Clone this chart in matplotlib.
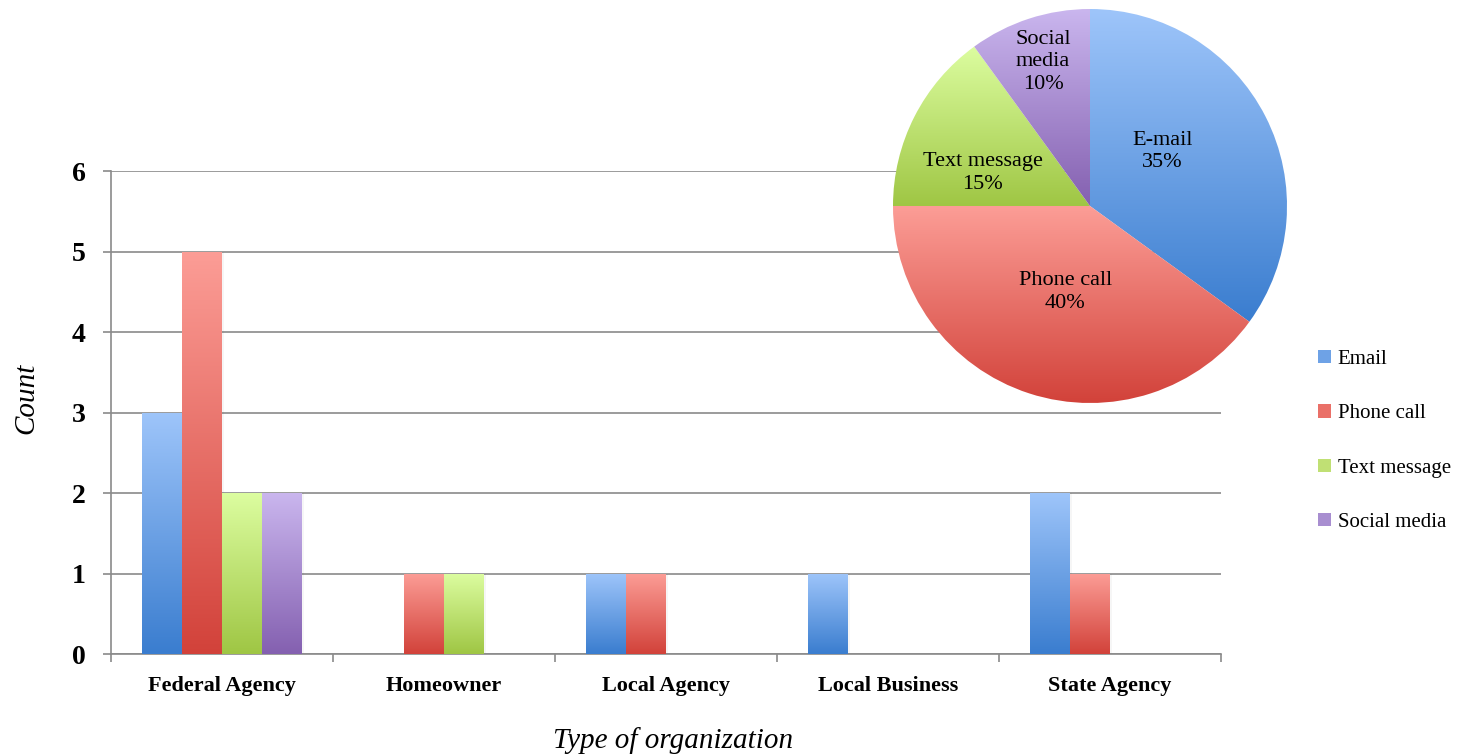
import numpy as np
import matplotlib.pyplot as plt
from matplotlib.colors import to_rgb
from matplotlib.patches import Patch

# counts per organisation type and contact method
orgs = ["Federal Agency", "Homeowner", "Local Agency", "Local Business", "State Agency"]
methods = ["Email", "Phone call", "Text message", "Social media"]
email = [3, 0, 1, 1, 2]
phone = [5, 1, 1, 0, 1]
text_msg = [2, 1, 0, 0, 0]
social = [2, 0, 0, 0, 0]

# overall share of contact methods (pie)
pie_labels = ["E-mail", "Phone call", "Text message", "Social\nmedia"]
pie_share = [35, 40, 15, 10]

# light (top) / dark (bottom) shades for the gradient fills
tops = ["#9ec5fa", "#fc9d96", "#dcfda0", "#cab6ee"]
bottoms = ["#3a7dcf", "#d2423a", "#9fc644", "#8460b0"]
mids = ["#6ea2e6", "#ea7068", "#c0e074", "#a88ed0"]

plt.rcParams["font.family"] = ["Liberation Serif", "DejaVu Serif"]
grid_col = "#8a8a8a"


def gradient(ax, patch, top, bottom, x0, x1, y0, y1):
    t = np.linspace(0, 1, 256)[:, None]
    img = (1 - t) * np.array(to_rgb(top)) + t * np.array(to_rgb(bottom))
    im = ax.imshow(img[:, None, :], extent=[x0, x1, y0, y1], origin="upper",
                   aspect="auto", zorder=patch.get_zorder(), interpolation="bilinear")
    im.set_clip_path(patch)
    patch.set_facecolor("none")


fig = plt.figure(figsize=(14.58, 7.55), dpi=100)
ax = fig.add_axes([111 / 1458, 1 - 654 / 755, 1110 / 1458, 483 / 755])

x = np.arange(len(orgs)) + 0.5
w = 0.18
series = [email, phone, text_msg, social]
for i, vals in enumerate(series):
    bars = ax.bar(x + (i - 1.5) * w, vals, w, zorder=3, linewidth=0)
    for b in bars:
        h = b.get_height()
        if h <= 0:
            continue
        bx = b.get_x()
        # faint shadow on the right side of each bar
        ax.bar(bx + b.get_width(), h, 0.01, align="edge",
               color="#000000", alpha=0.035, zorder=2, linewidth=0)
        gradient(ax, b, tops[i], bottoms[i], bx, bx + b.get_width(), 0, h)

ax.set_xlim(0, len(orgs))
ax.set_ylim(0, 6)
ax.set_yticks(range(7))
ax.set_yticklabels([str(v) for v in range(7)], fontsize=20, fontweight="bold")
ax.yaxis.grid(True, color=grid_col, linewidth=1.2, zorder=0)
ax.set_axisbelow(True)

ax.set_xticks(np.arange(len(orgs) + 1))
ax.set_xticklabels([])
ax.set_xticks(x, minor=True)
ax.set_xticklabels(orgs, minor=True, fontsize=16, fontweight="bold")
ax.tick_params(axis="x", which="major", length=6, width=1.2, color=grid_col)
ax.tick_params(axis="x", which="minor", length=0, pad=16)
ax.tick_params(axis="y", length=6, width=1.2, color=grid_col, pad=12)

for s in ["top", "right"]:
    ax.spines[s].set_visible(False)
for s in ["left", "bottom"]:
    ax.spines[s].set_color(grid_col)
    ax.spines[s].set_linewidth(1.2)

fig.text(673 / 1458, 1 - 741 / 755, "Type of organization", fontsize=21,
         style="italic", ha="center", va="center")
fig.text(26 / 1458, 1 - 398 / 755, "Count", fontsize=21, style="italic",
         rotation=90, ha="center", va="center")

# pie inset
pax = fig.add_axes([893 / 1458, 1 - 403 / 755, 394 / 1458, 394 / 755])
wedges, _ = pax.pie(pie_share, startangle=90, counterclock=False, radius=1,
                    wedgeprops=dict(linewidth=0))
pax.axis("off")

label_r = [0.46, 0.455, 0.57, 0.77]
label_shift = [10, 2, 10, 0]
for i, wd in enumerate(wedges):
    bb = wd.get_path().get_extents()
    gradient(pax, wd, tops[i], bottoms[i], bb.x0, bb.x1, bb.y0, bb.y1)
    ang = np.deg2rad((wd.theta1 + wd.theta2) / 2 + label_shift[i])
    pax.text(label_r[i] * np.cos(ang), label_r[i] * np.sin(ang),
             f"{pie_labels[i]}\n{pie_share[i]}%", ha="center", va="center",
             fontsize=16, zorder=10, linespacing=1.25)
pax.set_xlim(-1, 1)
pax.set_ylim(-1, 1)
pax.set_aspect("equal")

handles = [Patch(facecolor=mids[i], edgecolor="none") for i in range(4)]
fig.legend(handles, methods, loc="center left",
           bbox_to_anchor=(1318 / 1458, 1 - 441 / 755), frameon=False,
           fontsize=15, handlelength=0.6, handleheight=0.6, handletextpad=0.35,
           labelspacing=1.7, borderpad=0, borderaxespad=0)

fig.savefig("out.png", dpi=100, facecolor="white")
